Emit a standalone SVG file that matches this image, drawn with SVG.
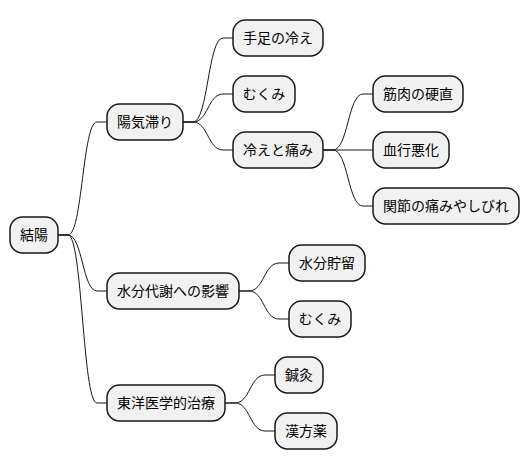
<svg xmlns="http://www.w3.org/2000/svg" width="530" height="471" viewBox="0 0 530 471">
<style>
.n rect{fill:#F1F1F1;stroke:#181818;stroke-width:1.5}
.n text{font-family:"Noto Sans CJK JP","Noto Sans",sans-serif;font-size:14px;fill:#000;text-anchor:middle}
.c path{fill:none;stroke:#181818;stroke-width:1}
</style>
<rect width="530" height="471" fill="#FFFFFF"/>
<g class="c" id="connectors">
<path d="M58,235 H68 C82.5,235 82.5,122 97,122 H107"/>
<path d="M58,235 H68 C82.5,235 82.5,291 97,291 H107"/>
<path d="M58,235 H68 C82.5,235 82.5,403 97,403 H107"/>
<path d="M183,122 H193 C208,122 208,38 223,38 H233"/>
<path d="M183,122 H193 C208,122 208,94 223,94 H233"/>
<path d="M183,122 H193 C208,122 208,150 223,150 H233"/>
<path d="M323,150 H333 C348,150 348,94 363,94 H373"/>
<path d="M323,150 H373"/>
<path d="M323,150 H333 C348,150 348,206 363,206 H373"/>
<path d="M239,291 H249 C264,291 264,263 279,263 H289"/>
<path d="M239,291 H249 C264,291 264,319 279,319 H289"/>
<path d="M225,403 H235 C250,403 250,375 265,375 H275"/>
<path d="M225,403 H235 C250,403 250,431 265,431 H275"/>
</g>
<g class="n" id="root"><rect x="10" y="217" width="48" height="36" rx="12.5"/><text x="34" y="240">結陽</text></g>
<g class="n" id="n1"><rect x="107" y="104" width="76" height="36" rx="12.5"/><text x="145" y="127">陽気滞り</text></g>
<g class="n" id="n1a"><rect x="233" y="20" width="90" height="36" rx="12.5"/><text x="278" y="43">手足の冷え</text></g>
<g class="n" id="n1b"><rect x="233" y="76" width="62" height="36" rx="12.5"/><text x="264" y="99">むくみ</text></g>
<g class="n" id="n1c"><rect x="233" y="132" width="90" height="36" rx="12.5"/><text x="278" y="155">冷えと痛み</text></g>
<g class="n" id="n1c1"><rect x="373" y="76" width="90" height="36" rx="12.5"/><text x="418" y="99">筋肉の硬直</text></g>
<g class="n" id="n1c2"><rect x="373" y="132" width="76" height="36" rx="12.5"/><text x="411" y="155">血行悪化</text></g>
<g class="n" id="n1c3"><rect x="373" y="188" width="146" height="36" rx="12.5"/><text x="446" y="211">関節の痛みやしびれ</text></g>
<g class="n" id="n2"><rect x="107" y="273" width="132" height="36" rx="12.5"/><text x="173" y="296">水分代謝への影響</text></g>
<g class="n" id="n2a"><rect x="289" y="245" width="76" height="36" rx="12.5"/><text x="327" y="268">水分貯留</text></g>
<g class="n" id="n2b"><rect x="289" y="301" width="62" height="36" rx="12.5"/><text x="320" y="324">むくみ</text></g>
<g class="n" id="n3"><rect x="107" y="385" width="118" height="36" rx="12.5"/><text x="166" y="408">東洋医学的治療</text></g>
<g class="n" id="n3a"><rect x="275" y="357" width="48" height="36" rx="12.5"/><text x="299" y="380">鍼灸</text></g>
<g class="n" id="n3b"><rect x="275" y="413" width="62" height="36" rx="12.5"/><text x="306" y="436">漢方薬</text></g>
</svg>
